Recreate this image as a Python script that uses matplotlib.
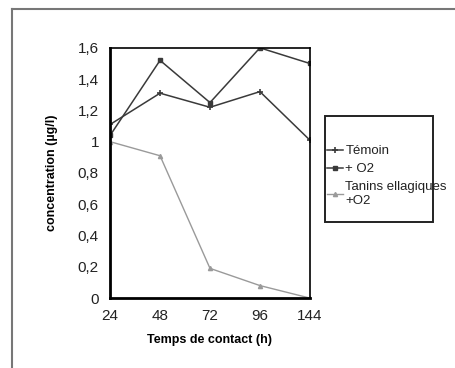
import matplotlib
matplotlib.use("Agg")
import matplotlib.pyplot as plt
from matplotlib.lines import Line2D
from matplotlib.patches import Rectangle

# data
hours = ["24", "48", "72", "96", "144"]
temoin = [1.11, 1.31, 1.22, 1.32, 1.01]
plus_o2 = [1.04, 1.52, 1.25, 1.60, 1.50]
tanins_o2 = [1.00, 0.91, 0.19, 0.08, 0.00]
yticks = [0, 0.2, 0.4, 0.6, 0.8, 1.0, 1.2, 1.4, 1.6]
ylabels = ["0", "0,2", "0,4", "0,6", "0,8", "1", "1,2", "1,4", "1,6"]

plt.rcParams['font.family'] = ['Liberation Sans', 'DejaVu Sans']

W, H = 455, 368
fig = plt.figure(figsize=(W / 100, H / 100), dpi=100)
ax = fig.add_axes([0.242, 0.190, 0.439, 0.680])

x = list(range(len(hours)))
ax.plot(x, temoin, color='#3a3a3a', lw=1.1, marker='+', ms=5, mew=1.2)
ax.plot(x, plus_o2, color='#3a3a3a', lw=1.1, marker='s', ms=3)
ax.plot(x, tanins_o2, color='#9a9a9a', lw=1.0, marker='^', ms=3)

ax.set_xlim(0, len(hours) - 1)
ax.set_ylim(0, 1.6)
ax.set_xticks(x)
ax.set_xticklabels(hours, fontsize=11)
ax.set_yticks(yticks)
ax.set_yticklabels(ylabels, fontsize=11)
ax.tick_params(length=0, pad=8, colors='#222222')

for side in ['left', 'bottom']:
    ax.spines[side].set_linewidth(2.0)
for side in ['top', 'right']:
    ax.spines[side].set_linewidth(1.2)

ax.set_ylabel("concentration (µg/l)", fontsize=9, fontweight='bold', labelpad=14)
ax.set_xlabel("Temps de contact (h)", fontsize=9, fontweight='bold', labelpad=8)

# outer frame of the scanned figure
fig.add_artist(Line2D([12 / W, 12 / W], [0, 1 - 9 / H], color='#777777', lw=1.5))
fig.add_artist(Line2D([12 / W, 1], [1 - 9 / H, 1 - 9 / H], color='#777777', lw=1.5))

# legend box drawn separately (text runs past it as in the scan)
fig.add_artist(Rectangle((325 / W, 1 - 222 / H), 108 / W, 106 / H,
                         transform=fig.transFigure, fill=False,
                         edgecolor='#222222', lw=1.4))

handles = [
    Line2D([], [], color='#3a3a3a', lw=1.1, marker='+', ms=5, mew=1.2),
    Line2D([], [], color='#3a3a3a', lw=1.1, marker='s', ms=3),
    Line2D([], [], color='#9a9a9a', lw=1.0, marker='^', ms=3),
]
leg = fig.legend(handles, ["Témoin", "+ O2", "Tanins ellagiques\n+O2"],
                 loc='upper left', bbox_to_anchor=(327 / W, 1 - 145 / H),
                 fontsize=9.5, frameon=False, handlelength=1.2,
                 handletextpad=0.2, borderpad=0, labelspacing=0.45,
                 borderaxespad=0)
for t in leg.get_texts():
    t.set_color('#222222')

fig.savefig("out.png", dpi=100)
